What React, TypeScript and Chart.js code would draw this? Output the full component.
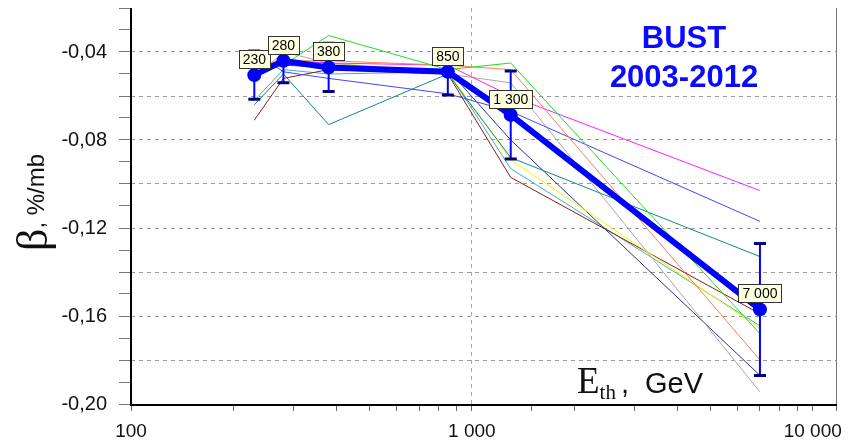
import React, { useEffect, useRef } from "react";
import { Chart, registerables } from "chart.js";

Chart.register(...registerables);

// ---- data ----
const energies = [230, 280, 380, 850, 1300, 7000];
const pointLabels = ["230", "280", "380", "850", "1 300", "7 000"];
const betaMean = [-0.0505, -0.044, -0.047, -0.049, -0.0686, -0.157];
const betaErr = [0.011, 0.010, 0.011, 0.0105, 0.020, 0.030];

const yearGreen = [-0.050, -0.046, -0.0325, -0.048, -0.045, -0.168];
const yearOrange = [-0.046, -0.044, -0.044, -0.046, -0.048, -0.180];
const yearMagenta = [-0.047, -0.044, -0.045, -0.046, -0.060, -0.103];
const yearBlue = [-0.040, -0.049, -0.052, -0.059, -0.067, -0.117];
const yearTeal = [-0.064, -0.050, -0.073, -0.050, -0.088, -0.133];
const yearGray = [-0.052, -0.040, -0.045, -0.050, -0.054, -0.1945];
const yearYellow = [-0.047, -0.043, -0.045, -0.049, -0.089, -0.1655];
const yearBrown = [-0.071, -0.052, -0.048, -0.050, -0.097, -0.159];
const yearNavy = [-0.045, -0.046, -0.047, -0.048, -0.080, -0.187];
const yearLightTeal = [-0.062, -0.048, -0.050, -0.049, -0.093, -0.1645];

const thinSeries: [string, number[]][] = [
  ["#22dd22", yearGreen],
  ["#ff8050", yearOrange],
  ["#ff22ff", yearMagenta],
  ["#4444ff", yearBlue],
  ["#108888", yearTeal],
  ["#a8a8a8", yearGray],
  ["#f4f400", yearYellow],
  ["#8b1a1a", yearBrown],
  ["#303090", yearNavy],
  ["#40b0b0", yearLightTeal],
];

const xTickLabels: Record<number, string> = { 100: "100", 1000: "1 000", 10000: "10 000" };

const SANS = "'Liberation Sans', Arial, sans-serif";
const SERIF = "'Liberation Serif', 'Times New Roman', serif";

const decorPlugin = {
  id: "decor",
  afterDatasetsDraw(chart: any) {
    const { ctx, chartArea, scales } = chart;
    const xs = scales.x;
    const ys = scales.y;
    ctx.save();
    // axes frame
    ctx.strokeStyle = "#777";
    ctx.lineWidth = 1;
    ctx.beginPath();
    ctx.moveTo(chartArea.right + 0.5, chartArea.top);
    ctx.lineTo(chartArea.right + 0.5, chartArea.bottom);
    ctx.stroke();
    ctx.strokeStyle = "#000";
    ctx.lineWidth = 2;
    ctx.beginPath();
    ctx.moveTo(chartArea.left, chartArea.top);
    ctx.lineTo(chartArea.left, chartArea.bottom + 1);
    ctx.lineTo(chartArea.right + 1, chartArea.bottom + 1);
    ctx.stroke();

    // error bars
    energies.forEach((e, i) => {
      const px = xs.getPixelForValue(e);
      const yt = ys.getPixelForValue(betaMean[i] + betaErr[i]);
      const yb = ys.getPixelForValue(betaMean[i] - betaErr[i]);
      ctx.strokeStyle = "#0000ff";
      ctx.lineWidth = 2;
      ctx.beginPath();
      ctx.moveTo(px, yt);
      ctx.lineTo(px, yb);
      ctx.stroke();
      ctx.strokeStyle = "#000080";
      ctx.lineWidth = 3;
      ctx.beginPath();
      ctx.moveTo(px - 6, yt);
      ctx.lineTo(px + 6, yt);
      ctx.moveTo(px - 6, yb);
      ctx.lineTo(px + 6, yb);
      ctx.stroke();
    });

    // point labels
    ctx.font = `14px ${SANS}`;
    ctx.textAlign = "center";
    ctx.textBaseline = "middle";
    energies.forEach((e, i) => {
      const px = xs.getPixelForValue(e);
      const py = ys.getPixelForValue(betaMean[i]);
      const w = Math.round(ctx.measureText(pointLabels[i]).width + 8);
      const h = 18;
      const cy = py - 16;
      const bx = Math.round(px - w / 2) + 0.5;
      const by = Math.round(cy - h / 2) + 0.5;
      ctx.fillStyle = "#ffffe1";
      ctx.fillRect(bx, by, w, h);
      ctx.strokeStyle = "#333";
      ctx.lineWidth = 1;
      ctx.strokeRect(bx, by, w, h);
      ctx.fillStyle = "#000";
      ctx.fillText(pointLabels[i], px, cy + 1);
    });

    // BUST title
    ctx.fillStyle = "#0a0aff";
    ctx.font = `bold 31px ${SANS}`;
    ctx.textBaseline = "alphabetic";
    ctx.fillText("BUST", 684, 48);
    ctx.fillText("2003-2012", 684, 87);

    // x axis title inside the plot
    ctx.fillStyle = "#111";
    ctx.textAlign = "left";
    ctx.font = `37px ${SERIF}`;
    ctx.fillText("E", 577, 393);
    let xx = 577 + ctx.measureText("E").width;
    ctx.font = `21px ${SERIF}`;
    ctx.fillText("th", xx, 399);
    xx += ctx.measureText("th").width;
    ctx.font = `29px ${SANS}`;
    ctx.fillText(",", xx + 5, 393);
    ctx.fillText("GeV", 645, 393);

    // y axis title
    ctx.translate(47, 251);
    ctx.rotate(-Math.PI / 2);
    ctx.font = `44px ${SERIF}`;
    ctx.fillText("β", 0, 0);
    const bw = ctx.measureText("β").width;
    ctx.font = `24px ${SANS}`;
    ctx.fillText(", %/mb", bw, -3);
    ctx.restore();
  },
};

export default function App() {
  const ref = useRef<HTMLCanvasElement | null>(null);
  useEffect(() => {
    document.body.style.margin = "0";
    const canvas = ref.current!;
    const datasets: any[] = [
      {
        label: "mean",
        data: energies.map((e, i) => ({ x: e, y: betaMean[i] })),
        borderColor: "#0000ff",
        backgroundColor: "#0000ff",
        borderWidth: 6,
        pointRadius: 7,
        pointBorderWidth: 0,
        pointBackgroundColor: "#0000ff",
        order: 0,
      },
      ...thinSeries.map(([c, vals], k) => ({
        label: "y" + k,
        data: energies.map((e, i) => ({ x: e, y: vals[i] })),
        borderColor: c,
        backgroundColor: c,
        borderWidth: 1,
        pointRadius: 0,
        order: 1,
      })),
    ];
    const chart = new Chart(canvas, {
      type: "line",
      data: { datasets },
      plugins: [decorPlugin],
      options: {
        responsive: false,
        animation: false,
        layout: { padding: { top: 8, right: 14, left: 0, bottom: 0 } },
        plugins: { legend: { display: false }, tooltip: { enabled: false } },
        scales: {
          x: {
            type: "logarithmic",
            min: 100,
            max: 11700,
            afterFit: (s: any) => {
              s.height = 41;
            },
            border: { display: false, dash: [4, 4] },
            grid: {
              color: (c: any) => (c.tick && Math.round(c.tick.value) === 1000 ? "#aaa" : "rgba(0,0,0,0)"),
              tickColor: "#666",
              tickLength: 7,
              tickBorderDash: [],
              drawTicks: true,
            },
            ticks: {
              autoSkip: false,
              maxRotation: 0,
              padding: 9,
              color: "#111",
              font: { family: SANS, size: 19 },
              callback: (v: any) => xTickLabels[Math.round(Number(v))] ?? "",
            },
          },
          y: {
            type: "linear",
            min: -0.2,
            max: -0.02,
            afterFit: (s: any) => {
              s.width = 131;
              s.paddingTop = 0;
              s.paddingBottom = 0;
            },
            border: { display: false, dash: [4, 4] },
            grid: {
              color: (c: any) => {
                const k = Math.round((c.tick?.value ?? 0) * 100);
                return k % 2 === 0 && k !== -20 && k !== -2 ? "#999" : "rgba(0,0,0,0)";
              },
              tickColor: "#777",
              tickLength: 12,
              tickBorderDash: [],
            },
            ticks: {
              stepSize: 0.01,
              autoSkip: false,
              padding: 12,
              color: "#111",
              font: { family: SANS, size: 20 },
              callback: (v: any) => {
                const k = Math.round(Number(v) * 100);
                return k % 4 === 0 ? (k / 100).toFixed(2).replace(".", ",") : "";
              },
            },
          },
        },
      } as any,
    });
    return () => chart.destroy();
  }, []);
  return <canvas ref={ref} width={850} height={445} style={{ display: "block" }} />;
}
